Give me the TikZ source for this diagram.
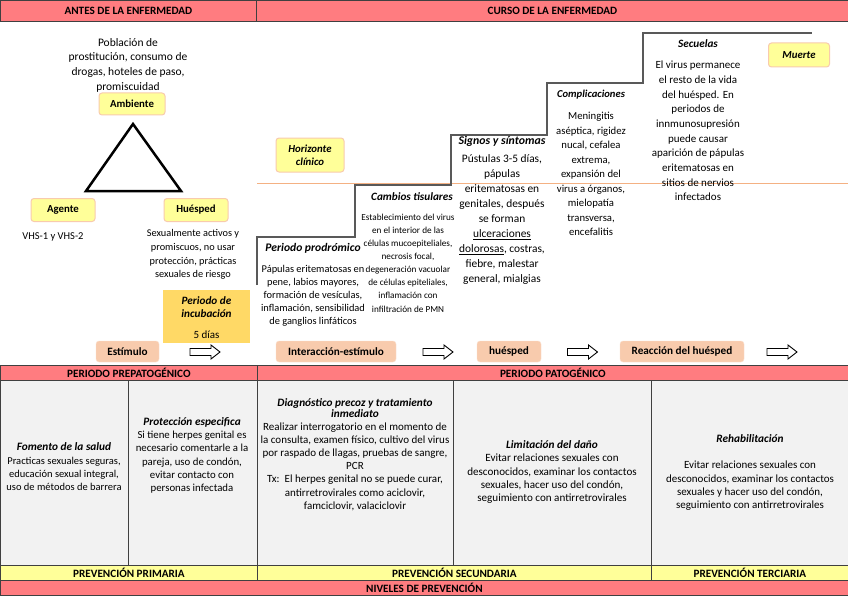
\documentclass[tikz,border=0pt]{standalone}
\usepackage{fontspec}
\setmainfont{Carlito}
\definecolor{hred}{HTML}{FF7C80}
\definecolor{hyel}{HTML}{FFFF99}
\definecolor{peach}{HTML}{F8CBAD}
\definecolor{gold}{HTML}{FFD966}
\definecolor{cellgray}{HTML}{F2F2F2}
\definecolor{gridc}{HTML}{404040}
\definecolor{orline}{HTML}{F4B183}
\definecolor{ybord}{HTML}{F8CBAD}
\definecolor{stairc}{HTML}{595959}
\newcommand{\btit}[1]{{\fontsize{11.3}{13.3}\selectfont\bfseries\itshape #1}}
\begin{document}
\begin{tikzpicture}[x=1pt,y=-1pt,
  grid/.style={draw=gridc, line width=0.8pt},
  hdrtxt/.style={font=\fontsize{11.2}{12}\selectfont\bfseries, inner sep=0pt},
  ybox/.style={draw=ybord, line width=1pt, fill=hyel, rounded corners=3pt, font=\fontsize{10.8}{12}\selectfont\bfseries, inner sep=0pt},
  pbox/.style={fill=peach, draw=peach!60, rounded corners=3pt, font=\fontsize{11.2}{12}\selectfont\bfseries, inner sep=0pt, minimum height=21pt},
  body/.style={align=center, inner sep=0pt, font=\fontsize{11}{14.7}\selectfont},
  ttl/.style={align=center, inner sep=0pt, font=\fontsize{11.2}{12.5}\selectfont\bfseries\itshape},
  blockarr/.pic={\draw[line width=0.9pt, fill=white, line join=miter] (-15,-3.5) -- (6,-3.5) -- (6,-7) -- (15,0) -- (6,7) -- (6,3.5) -- (-15,3.5) -- cycle;},
  tbl/.style={align=center, inner sep=0pt, font=\fontsize{10.8}{13.3}\selectfont},
]
\useasboundingbox (0,0) rectangle (848,599);
\fill[white] (0,0) rectangle (848,599);

% header
\node[grid, fill=hred, minimum width=256pt, minimum height=21pt, anchor=north west, hdrtxt] (h1) at (0,0) {ANTES DE LA ENFERMEDAD};
\node[grid, fill=hred, minimum width=592pt, minimum height=21pt, anchor=north west, hdrtxt] (h2) at (256,0) {CURSO DE LA ENFERMEDAD};

% triad
\node[body, font=\fontsize{11.5}{14.7}\selectfont] (pob) at (128,65) {Población de\\prostitución, consumo de\\drogas, hoteles de paso,\\promiscuidad};
\node[ybox, minimum width=66pt, minimum height=22pt] (amb) at (132,104) {Ambiente};
\draw[line width=2.5pt, line join=miter] (133,124) -- (181,191) -- (86,191) -- cycle;
\node[ybox, minimum width=64pt, minimum height=23pt] (age) at (63,210) {Agente};
\node[ybox, minimum width=64pt, minimum height=23pt] (hue) at (196,210) {Huésped};
\node[body, font=\fontsize{10.5}{13.7}\selectfont] (vhs) at (53,237) {VHS-1 y VHS-2};
\node[body, font=\fontsize{10.3}{13.7}\selectfont] (huet) at (193,254.5) {Sexualmente activos y\\promiscuos, no usar\\protección, prácticas\\sexuales de riesgo};

% incubation
\node[fill=gold, minimum width=87pt, minimum height=53pt, inner sep=0pt] (inc) at (206.5,316.5) {};
\node[ttl] (inct) at (206.5,307) {Periodo de\\incubación};
\node[body] (incd) at (206.5,335) {5 días};

% stair and horizon
\draw[orline, line width=0.7pt] (257,183) -- (848,183);
\draw[stairc, line width=1.1pt] (257,285) -- (257,237) -- (355,237) -- (355,185) -- (451,185) -- (451,135) -- (547,135) -- (547,83) -- (643,83) -- (643,33) -- (812,33);
\node[ybox, align=center, font=\fontsize{10.8}{13}\selectfont\bfseries\itshape, minimum width=68pt, minimum height=34pt] (hor) at (310,155) {Horizonte\\clínico};

% stages
\node[ttl, font=\fontsize{11.6}{12.5}\selectfont\bfseries\itshape] (pt) at (313,248) {Periodo prodrómico};
\node[body, font=\fontsize{10.4}{13}\selectfont] (pb) at (313,296) {Pápulas eritematosas en\\pene, labios mayores,\\formación de vesículas,\\inflamación, sensibilidad\\de ganglios linfáticos};
\node[ttl] (ct) at (412,197) {Cambios tisulares};
\node[body, font=\fontsize{9.2}{13.1}\selectfont] (cb) at (408,263) {Establecimiento del virus\\en el interior de las\\células mucoepiteliales,\\necrosis focal,\\degeneración vacuolar\\de células epiteliales,\\inflamación con\\infiltración de PMN};
\node[ttl, font=\fontsize{11.8}{12.5}\selectfont\bfseries\itshape] (st) at (502,141) {Signos y síntomas};
\node[body, font=\fontsize{11.4}{14.9}\selectfont] (sb) at (502,219.5) {Pústulas 3-5 días,\\pápulas\\eritematosas en\\genitales, después\\se forman\\\underline{ulceraciones}\\\underline{dolorosas}, costras,\\fiebre, malestar\\general, mialgias};
\node[ttl, font=\fontsize{10.6}{12.5}\selectfont\bfseries\itshape] (kt) at (591,95) {Complicaciones};
\node[body, font=\fontsize{10.7}{14.5}\selectfont] (kb) at (591,174) {Meningitis\\aséptica, rigidez\\nucal, cefalea\\extrema,\\expansión del\\virus a órganos,\\mielopatía\\transversa,\\encefalitis};
\node[ttl] (qt) at (698,44) {Secuelas};
\node[body] (qb) at (698,131) {El virus permanece\\el resto de la vida\\del huésped. En\\periodos de\\innmunosupresión\\puede causar\\aparición de pápulas\\eritematosas en\\sitios de nervios\\infectados};
\node[ybox, font=\fontsize{10.8}{12}\selectfont\bfseries\itshape, minimum width=61pt, minimum height=24pt] (mue) at (799,55) {Muerte};

% flow row
\node[pbox, minimum width=63pt] (est) at (127.5,351.5) {Estímulo};
\pic (a0) at (205,352) {blockarr};
\node[pbox, minimum width=120pt] (ie) at (336,351.5) {Interacción-estímulo};
\pic (a1) at (438,352) {blockarr};
\node[pbox, minimum width=64pt] (hu) at (509,351.5) {huésped};
\pic (a2) at (582.5,352) {blockarr};
\node[pbox, minimum width=124pt] (rh) at (682,351.5) {Reacción del huésped};
\pic (a3) at (782,352) {blockarr};

% table
\node[grid, fill=hred, minimum width=257pt, minimum height=15pt, anchor=north west, hdrtxt] (pp) at (0,365) {PERIODO PREPATOGÉNICO};
\node[grid, fill=hred, minimum width=591pt, minimum height=15pt, anchor=north west, hdrtxt] (pa) at (257,365) {PERIODO PATOGÉNICO};
\draw[grid, fill=cellgray] (0,380) rectangle (128,565);
\draw[grid, fill=cellgray] (128,380) rectangle (257,565);
\draw[grid, fill=cellgray] (257,380) rectangle (453,565);
\draw[grid, fill=cellgray] (453,380) rectangle (651,565);
\draw[grid, fill=cellgray] (651,380) rectangle (848,565);
\node[grid, fill=hyel, minimum width=257pt, minimum height=15pt, anchor=north west, hdrtxt] (p1) at (0,565) {PREVENCIÓN PRIMARIA};
\node[grid, fill=hyel, minimum width=394pt, minimum height=15pt, anchor=north west, hdrtxt] (p2) at (257,565) {PREVENCIÓN SECUNDARIA};
\node[grid, fill=hyel, minimum width=197pt, minimum height=15pt, anchor=north west, hdrtxt] (p3) at (651,565) {PREVENCIÓN TERCIARIA};
\node[grid, fill=hred, minimum width=848pt, minimum height=15pt, anchor=north west, hdrtxt] (nv) at (0,580) {NIVELES DE PREVENCIÓN};

\node[tbl, font=\fontsize{10.5}{13.3}\selectfont] (c1) at (64,467) {\btit{Fomento de la salud}\\Practicas sexuales seguras,\\educación sexual integral,\\uso de métodos de barrera};
\node[tbl] (c2) at (192,455.5) {\btit{Protección especifica}\\Si tiene herpes genital es\\necesario comentarle a la\\pareja, uso de condón,\\evitar contacto con\\personas infectada};
\node[tbl, font=\fontsize{11}{13.1}\selectfont] (c3) at (355,454.5) {\btit{Diagnóstico precoz y tratamiento}\\[-2pt]\btit{inmediato}\\Realizar interrogatorio en el momento de\\la consulta, examen físico, cultivo del virus\\por raspado de llagas, pruebas de sangre,\\PCR\\Tx:\ \ El herpes genital no se puede curar,\\antirretrovirales como aciclovir,\\famciclovir, valaciclovir};
\node[tbl, font=\fontsize{11.1}{13.3}\selectfont] (c4) at (552,472) {\btit{Limitación del daño}\\Evitar relaciones sexuales con\\desconocidos, examinar los contactos\\sexuales, hacer uso del condón,\\seguimiento con antirretrovirales};
\node[tbl, font=\fontsize{11}{13.3}\selectfont] (c5) at (750,472.5) {\btit{Rehabilitación}\\[13.3pt]Evitar relaciones sexuales con\\desconocidos, examinar los contactos\\sexuales y hacer uso del condón,\\seguimiento con antirretrovirales};
\end{tikzpicture}
\end{document}
